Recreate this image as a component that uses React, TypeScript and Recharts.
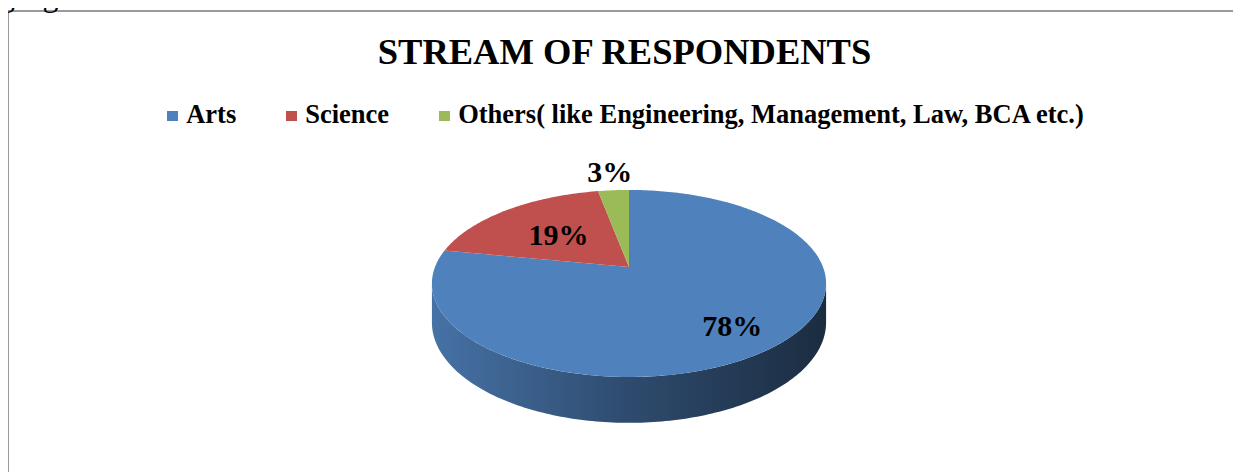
import React from 'react';
import { PieChart, Pie, Legend } from 'recharts';

const CATEGORIES = ['Arts', 'Science', 'Others( like Engineering, Management, Law, BCA etc.)'];
const VALUES = [78, 19, 3];
const COLORS = ['#4F81BD', '#C0504D', '#9BBB59'];
const TITLE = 'STREAM OF RESPONDENTS';
const PAGE_TEXT = 'ng figure 02.';

const data = CATEGORIES.map((name, i) => ({ name, value: VALUES[i] }));

const SERIF = '"Liberation Serif", "Times New Roman", serif';

// 3D projection settings (perspective tilt)
const P = 0.176;
const SY_RATIO = 0.467;
const DEPTH_RATIO = 0.195;
const LABEL_RADII = [0.75, 0.55, 1.3];

function shade(hex: string, f: number) {
  const n = parseInt(hex.slice(1), 16);
  const r = Math.round(((n >> 16) & 255) * f);
  const g = Math.round(((n >> 8) & 255) * f);
  const b = Math.round((n & 255) * f);
  return `rgb(${r},${g},${b})`;
}

function project(cx: number, cy: number, R: number, a: number, r: number) {
  const rad = (a * Math.PI) / 180;
  const s = Math.sin(rad);
  const c = Math.cos(rad);
  const den = 1 + P * r * s;
  return { x: cx + (R * r * c) / den, y: cy - (R * SY_RATIO * r * s) / den, den };
}

function arc(cx: number, cy: number, R: number, a1: number, a2: number) {
  const n = Math.max(2, Math.ceil(Math.abs(a2 - a1)));
  const pts: { x: number; y: number; den: number }[] = [];
  for (let i = 0; i <= n; i++) {
    pts.push(project(cx, cy, R, a1 + ((a2 - a1) * i) / n, 1));
  }
  return pts;
}

const render3DSlice = (props: any) => {
  const { cx, cy, outerRadius, startAngle, endAngle, midAngle, index, percent } = props;
  const R = outerRadius;
  const color = COLORS[index % COLORS.length];
  const lo = Math.min(startAngle, endAngle);
  const hi = Math.max(startAngle, endAngle);
  const H = R * DEPTH_RATIO;
  const sMin = (Math.asin(P) * 180) / Math.PI;
  const frontLo = 180 + sMin;
  const frontHi = 360 - sMin;
  const walls: string[] = [];
  for (const shift of [-720, -360, 0, 360]) {
    const b1 = Math.max(lo, frontLo + shift);
    const b2 = Math.min(hi, frontHi + shift);
    if (b2 > b1) {
      const top = arc(cx, cy, R, b1, b2);
      const bottom = top.map((p) => ({ x: p.x, y: p.y + H / p.den })).reverse();
      const all = [...top, ...bottom];
      walls.push('M' + all.map((p) => `${p.x.toFixed(2)},${p.y.toFixed(2)}`).join('L') + 'Z');
    }
  }
  const rim = arc(cx, cy, R, startAngle, endAngle);
  const topPath =
    `M${cx},${cy}L` + rim.map((p) => `${p.x.toFixed(2)},${p.y.toFixed(2)}`).join('L') + 'Z';
  const lp = project(cx, cy, R, midAngle, LABEL_RADII[index] ?? 0.7);
  const gid = `wall-grad-${index}`;
  return (
    <g key={`slice-${index}`}>
      <defs>
        <linearGradient id={gid} gradientUnits="userSpaceOnUse" x1={cx - R * 1.02} y1={0} x2={cx + R * 1.02} y2={0}>
          <stop offset="0" stopColor={shade(color, 0.88)} />
          <stop offset="0.5" stopColor={shade(color, 0.58)} />
          <stop offset="1" stopColor={shade(color, 0.34)} />
        </linearGradient>
      </defs>
      {walls.map((d, i) => (
        <path key={i} d={d} fill={`url(#${gid})`} stroke="none" />
      ))}
      <path d={topPath} fill={color} stroke="none" />
      <text
        x={lp.x}
        y={lp.y}
        textAnchor="middle"
        dominantBaseline="central"
        fontFamily={SERIF}
        fontWeight="bold"
        fontSize={30}
        fill="#000"
      >
        {`${Math.round(percent * 100)}%`}
      </text>
    </g>
  );
};

const renderLegend = (props: any) => {
  const payload = [...(props.payload || [])].sort(
    (a: any, b: any) => CATEGORIES.indexOf(a.value) - CATEGORIES.indexOf(b.value)
  );
  return (
    <div
      style={{
        display: 'flex',
        justifyContent: 'center',
        alignItems: 'center',
        fontFamily: SERIF,
        fontWeight: 'bold',
        fontSize: 26.5,
        lineHeight: '30px',
        color: '#000',
        whiteSpace: 'nowrap',
      }}
    >
      {payload.map((entry: any, i: number) => {
        const ci = CATEGORIES.indexOf(entry.value);
        return (
          <div
            key={`leg-${i}`}
            style={{ display: 'flex', alignItems: 'center', marginRight: i < payload.length - 1 ? 50 : 0 }}
          >
            <span
              style={{
                display: 'inline-block',
                width: 11,
                height: 10,
                background: COLORS[ci >= 0 ? ci : i],
                marginRight: 8,
                transform: 'translateY(2px)',
              }}
            />
            <span>{entry.value}</span>
          </div>
        );
      })}
    </div>
  );
};

export default function App() {
  return (
    <div style={{ position: 'relative', margin: '-8px 0 0 -8px', width: 1241, height: 472, overflow: 'hidden', background: '#fff' }}>
      <div
        style={{
          position: 'absolute',
          left: 7,
          top: 10,
          width: 1260,
          height: 480,
          borderLeft: '2px solid #9a9a9a',
          borderTop: '2px solid #9a9a9a',
          boxSizing: 'border-box',
        }}
      />
      <svg width={1241} height={472} style={{ position: 'absolute', left: 0, top: 0 }}>
        <text x={-17} y={6} fontFamily={SERIF} fontSize={32} fill="#000">
          {PAGE_TEXT}
        </text>
        <text x={624.5} y={64} textAnchor="middle" fontFamily={SERIF} fontWeight="bold" fontSize={36.5} fill="#000">
          {TITLE}
        </text>
      </svg>
      <div style={{ position: 'absolute', left: 0, top: 0 }}>
        <PieChart width={1241} height={472} margin={{ top: 0, right: 0, bottom: 0, left: 0 }}>
          <Legend
            layout="horizontal"
            verticalAlign="middle"
            align="center"
            content={renderLegend}
            wrapperStyle={{ position: 'absolute', top: 99, left: 5, width: 1241 }}
          />
          <Pie
            data={data}
            dataKey="value"
            nameKey="name"
            cx={629}
            cy={267}
            outerRadius={194}
            startAngle={90}
            endAngle={-270}
            fill="none"
            stroke="none"
            isAnimationActive={false}
            label={render3DSlice}
            labelLine={false}
            legendType="square"
          />
        </PieChart>
      </div>
    </div>
  );
}
